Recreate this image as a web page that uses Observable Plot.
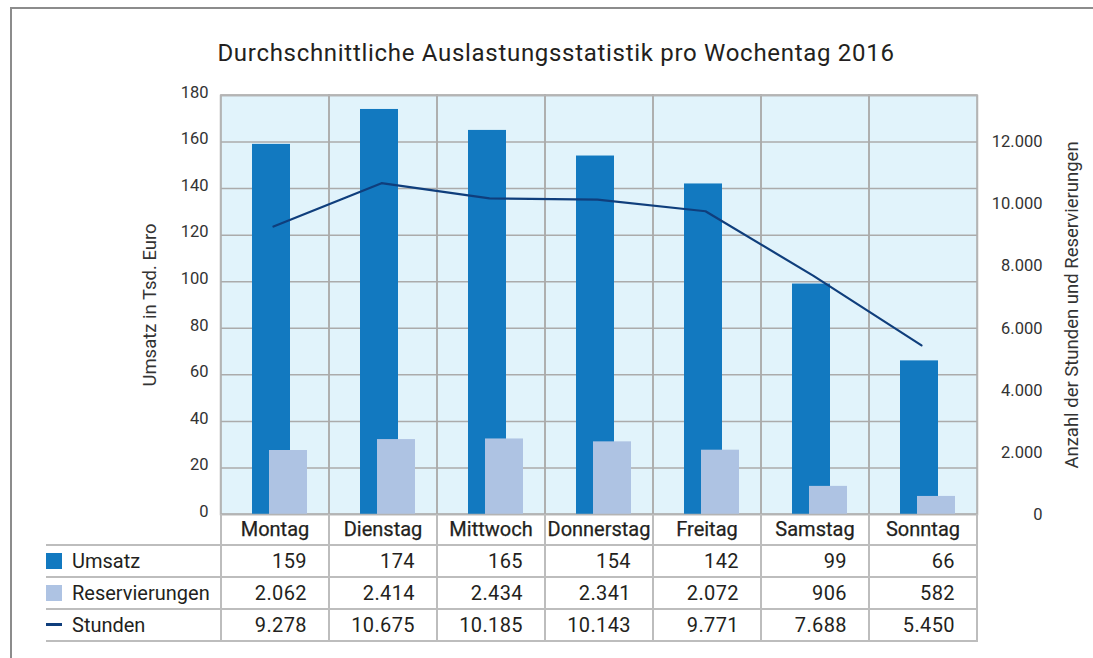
<!DOCTYPE html>
<html><head><meta charset="utf-8">
<script src="https://cdn.jsdelivr.net/npm/d3@7"></script>
<script src="https://cdn.jsdelivr.net/npm/@observablehq/plot@0.6"></script>
<style>
html,body{margin:0;padding:0;background:#fff;}
#wrap{position:relative;width:1093px;height:658px;overflow:hidden;font-family:Roboto,"Open Sans",sans-serif;color:#231f20;}
#border{position:absolute;left:10px;top:7px;right:-10px;bottom:-10px;border-left:2px solid #8c8c8c;border-top:2px solid #8c8c8c;}
#wrap svg{position:absolute;left:0;top:0;}
.abs{position:absolute;box-sizing:border-box;white-space:nowrap;}
</style></head>
<body><div id="wrap"><div id="border"></div></div>
<script>
const days = ["Montag","Dienstag","Mittwoch","Donnerstag","Freitag","Samstag","Sonntag"];
const umsatz = [159,174,165,154,142,99,66];
const reservierungen = [2062,2414,2434,2341,2072,906,582];
const stunden = [9278,10675,10185,10143,9771,7688,5450];
const leftTicks = [0,20,40,60,80,100,120,140,160,180];
const rightTicks = [0,2000,4000,6000,8000,10000,12000];
const ratio = 75; // right-axis units per left-axis unit
const title = "Durchschnittliche Auslastungsstatistik pro Wochentag 2016";
const leftLabel = "Umsatz in Tsd. Euro";
const rightLabel = "Anzahl der Stunden und Reservierungen";
const seriesNames = ["Umsatz","Reservierungen","Stunden"];
const colors = {umsatz:"#1279c0", res:"#aec3e3", line:"#0f3e7c", grid:"#ababab", bg:"#e1f3fb", text:"#231f20", table:"#bdbdbd"};

const de = d3.formatLocale({decimal:",", thousands:".", grouping:[3], currency:["","€"]});
const fmt = de.format(",d");
const data = days.map((d,i)=>({day:d, umsatz:umsatz[i], res:reservierungen[i], stunden:stunden[i]}));

const plot = Plot.plot({
  width:1093, height:658, marginTop:95, marginLeft:220, marginRight:116, marginBottom:144,
  style:{fontFamily:"Roboto, 'Open Sans', sans-serif", background:"transparent", color:colors.text, fontSize:"16px"},
  x:{type:"band", domain:days, padding:0, axis:null},
  y:{domain:[0,180], axis:null},
  marks:[
    Plot.frame({fill:colors.bg}),
    Plot.ruleY(leftTicks, {stroke:colors.grid, strokeWidth:1.5}),
    Plot.cell(days, {x:d=>d, stroke:colors.grid, strokeWidth:1.5, fill:"none"}),
    Plot.barY(data, {x:"day", y:"umsatz", fill:colors.umsatz, insetLeft:31, insetRight:39}),
    Plot.barY(data, {x:"day", y:d=>d.res/ratio, fill:colors.res, insetLeft:48, insetRight:22}),
    Plot.line(data, {x:"day", y:d=>d.stunden/ratio, stroke:colors.line, strokeWidth:2.2, dx:-2}),
    Plot.frame({stroke:"#b4b4b4", strokeWidth:1.5}),
    Plot.axisY(leftTicks, {anchor:"left", tickSize:0, tickPadding:12, fontSize:16.5, dy:-3, label:null, fill:"#333"}),
    Plot.axisY(rightTicks.map(v=>v/ratio), {anchor:"right", tickSize:0, tickPadding:3, tickFormat:d=>fmt(Math.round(d*ratio)), textAnchor:"end", dx:62, dy:0, fontSize:16.5, label:null, fill:"#333"}),
    Plot.text([leftLabel], {frameAnchor:"left", rotate:-90, dx:-70, fontSize:18.5, textAnchor:"middle", lineAnchor:"middle", fill:"#333"}),
    Plot.text([rightLabel], {frameAnchor:"right", rotate:-90, dx:95, fontSize:18.5, textAnchor:"middle", lineAnchor:"middle", fill:"#333"}),
    Plot.text([title], {frameAnchor:"top", dy:-42, dx:-43, fontSize:24, lineAnchor:"middle", textAnchor:"middle", fill:colors.text})
  ]
});

const wrap = document.getElementById("wrap");
wrap.appendChild(plot);
d3.select(plot).selectAll("text").filter(function(){ return this.textContent === title; }).style("letter-spacing", "0.7px");

// Table below the chart, aligned to the x band scale
const xs = plot.scale("x"), ys = plot.scale("y");
const bw = xs.bandwidth;
const y0 = ys.apply(0);
const xStart = xs.apply(days[0]);
const xEnd = xs.apply(days[days.length-1]) + bw;
const legendLeft = 46;
const headerH = 31, rowH = 32;
const rowTops = [y0 + headerH, y0 + headerH + rowH, y0 + headerH + 2*rowH];
const tableBottom = y0 + headerH + 3*rowH;

function div(css, text){
  const e = document.createElement("div");
  e.className = "abs";
  Object.assign(e.style, css);
  if (text != null) e.textContent = text;
  wrap.appendChild(e);
  return e;
}
// horizontal lines
[...rowTops, tableBottom].forEach(t => div({left:legendLeft+"px", top:(t-1)+"px", width:(xEnd-legendLeft+1)+"px", height:"2px", background:colors.table}));
// vertical lines
for (let i=0;i<=days.length;i++){
  const x = xStart + i*bw;
  div({left:(x-1)+"px", top:y0+"px", width:"2px", height:(tableBottom-y0+1)+"px", background:colors.table});
}
// header
days.forEach(d => div({left:xs.apply(d)+"px", top:y0+"px", width:bw+"px", height:headerH+"px", lineHeight:headerH+"px", textAlign:"center", fontSize:"20px", fontWeight:"400", webkitTextStroke:"0.25px #231f20"}, d));
// rows
const rows = [
  {name:seriesNames[0], values:umsatz, swatch:"box", color:colors.umsatz},
  {name:seriesNames[1], values:reservierungen, swatch:"box", color:colors.res},
  {name:seriesNames[2], values:stunden, swatch:"line", color:colors.line}
];
rows.forEach((r,ri) => {
  const top = rowTops[ri];
  if (r.swatch === "box") div({left:legendLeft+"px", top:(top+8)+"px", width:"16px", height:"16px", background:r.color});
  else div({left:legendLeft+"px", top:(top+14)+"px", width:"16px", height:"3px", background:r.color});
  div({left:"72px", top:top+"px", height:rowH+"px", lineHeight:rowH+"px", fontSize:"20px"}, r.name);
  r.values.forEach((v,i) => div({left:xs.apply(days[i])+"px", top:top+"px", width:(bw-22)+"px", height:rowH+"px", lineHeight:rowH+"px", textAlign:"right", fontSize:"20px", letterSpacing:"0.4px"}, fmt(v)));
});
</script>
</body></html>
